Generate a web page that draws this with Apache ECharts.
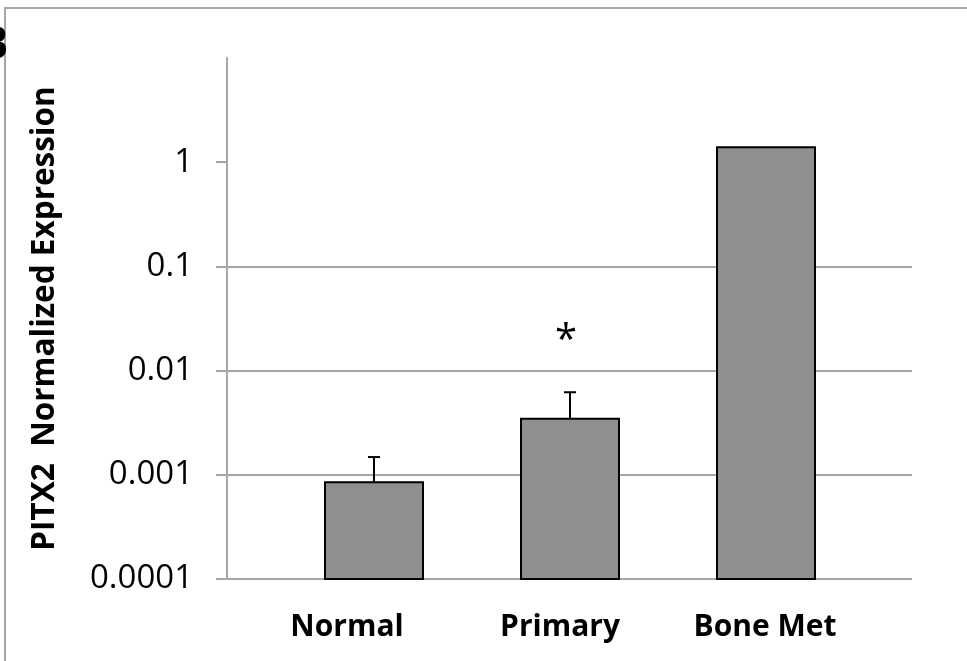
<!DOCTYPE html>
<html>
<head>
<meta charset="utf-8">
<script src="https://cdn.jsdelivr.net/npm/echarts@6/dist/echarts.min.js"></script>
<style>
html,body{margin:0;padding:0;background:#fff;}
#chart{width:967px;height:661px;}
</style>
</head>
<body>
<div id="chart"></div>
<script>
// ---- data ----
const categories = ['Normal', 'Primary', 'Bone Met'];
const meanValues = [0.00085, 0.00345, 1.39];
const errorUpper = [0.00148, 0.0062, null];
const significance = ['', '*', ''];
const yTickValues = [0.0001, 0.001, 0.01, 0.1, 1];
const yTickLabels = ['0.0001', '0.001', '0.01', '0.1', '1'];
const yAxisTitle = 'PITX2  Normalized Expression';
const panelLetter = 'B';

const chart = echarts.init(document.getElementById('chart'));
const FONT = '"Open Sans", "Liberation Sans", sans-serif';
const GRID_COLOR = '#a6a6a6';
const Y_MIN = 0.0001, Y_MAX = 10;

// horizontal nudges of the category labels (text centre offset in px)
const labelNudge = {'Normal': -27, 'Primary': -10, 'Bone Met': -1};

const option = {
  animation: false,
  backgroundColor: '#ffffff',
  grid: [
    {left: 227, right: 55, top: 58, bottom: 82, containLabel: false},
    {left: 276, right: 103, top: 58, bottom: 82, containLabel: false}
  ],
  xAxis: [
    {
      gridIndex: 0, type: 'category', data: categories,
      axisLine: {show: false}, axisTick: {show: false}, axisLabel: {show: false}, splitLine: {show: false}
    },
    {
      gridIndex: 1, type: 'category',
      data: categories.map(c => ({
        value: c,
        textStyle: {padding: labelNudge[c] < 0 ? [0, -2 * labelNudge[c], 0, 0] : [0, 0, 0, 2 * labelNudge[c]]}
      })),
      axisLine: {show: false}, axisTick: {show: false}, splitLine: {show: false},
      axisLabel: {
        margin: 33, color: '#000', fontFamily: FONT, fontWeight: 'bold', fontSize: 30, interval: 0
      }
    }
  ],
  yAxis: [
    {
      gridIndex: 0, type: 'log', logBase: 10, min: Y_MIN, max: Y_MAX,
      name: yAxisTitle, nameLocation: 'middle', nameGap: 166, nameRotate: 90,
      nameTextStyle: {color: '#000', fontFamily: FONT, fontWeight: 'bold', fontSize: 31.5},
      axisLine: {show: true, lineStyle: {color: GRID_COLOR, width: 2}},
      axisTick: {show: true, inside: false, length: 11, lineStyle: {color: GRID_COLOR, width: 2}, customValues: yTickValues},
      axisLabel: {
        show: true, margin: 34, color: '#000', fontFamily: FONT, fontSize: 33,
        customValues: yTickValues,
        formatter: v => {
          const i = yTickValues.findIndex(t => Math.abs(Math.log10(t) - Math.log10(v)) < 1e-6);
          return i >= 0 ? yTickLabels[i] : '';
        }
      },
      splitLine: {show: true, showMaxLine: false, lineStyle: {color: GRID_COLOR, width: 2}}
    },
    {
      gridIndex: 1, type: 'log', logBase: 10, min: Y_MIN, max: Y_MAX, show: false,
      splitLine: {show: false}
    }
  ],
  series: [
    {
      // bars drawn from the axis minimum (log axis) up to the mean value
      type: 'custom', xAxisIndex: 1, yAxisIndex: 1, z: 3,
      data: categories.map((c, i) => [i, meanValues[i]]),
      renderItem: function (params, api) {
        const i = api.value(0);
        const top = api.coord([i, api.value(1)]);
        const bottom = api.coord([i, Y_MIN]);
        const w = api.size([1, 0])[0] * 0.5;
        return {
          type: 'rect',
          shape: {x: top[0] - w / 2, y: top[1], width: w, height: bottom[1] - top[1]},
          style: {fill: '#8f8f8f', stroke: '#000', lineWidth: 2}
        };
      }
    },
    {
      type: 'custom', xAxisIndex: 1, yAxisIndex: 1, z: 4,
      data: categories.map((c, i) => [i, meanValues[i]]),
      renderItem: function (params, api) {
        const i = api.value(0);
        const children = [];
        const base = api.coord([i, api.value(1)]);
        const upVal = errorUpper[i];
        let topY = base[1];
        if (upVal != null) {
          const top = api.coord([i, upVal]);
          topY = top[1];
          children.push({type: 'line', shape: {x1: base[0], y1: base[1], x2: top[0], y2: top[1]}, style: {stroke: '#000', lineWidth: 2}});
          children.push({type: 'line', shape: {x1: top[0] - 6, y1: top[1], x2: top[0] + 6, y2: top[1]}, style: {stroke: '#000', lineWidth: 2}});
        }
        if (significance[i]) {
          children.push({
            type: 'text',
            style: {
              text: significance[i], x: base[0] - 4, y: topY - 51,
              fill: '#000', font: '40px ' + FONT, align: 'center', verticalAlign: 'middle'
            }
          });
        }
        return {type: 'group', children: children};
      }
    }
  ],
  graphic: [
    {
      type: 'polyline', z: 0,
      shape: {points: [[5, 661], [5, 8], [967, 8]]},
      style: {stroke: GRID_COLOR, lineWidth: 2, fill: null}
    },
    {
      type: 'text', z: 10, left: -23, top: 22,
      style: {text: panelLetter, fill: '#000', font: 'bold 47px ' + FONT}
    }
  ]
};
chart.setOption(option);
</script>
</body>
</html>
